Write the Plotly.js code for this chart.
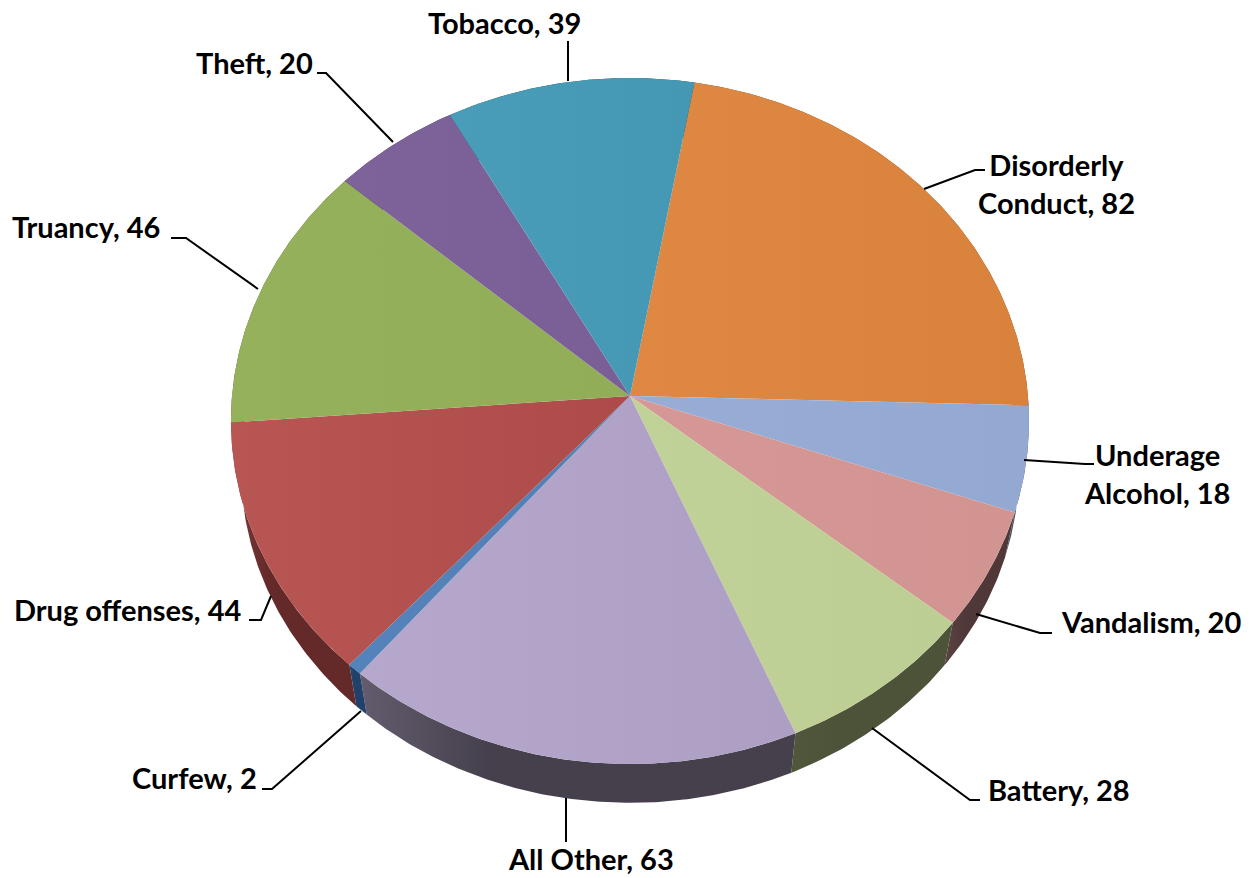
<!DOCTYPE html>
<html>
<head>
<meta charset="utf-8">
<script src="https://cdn.plot.ly/plotly-3.0.1.min.js"></script>
<style>html,body{margin:0;padding:0;background:#fff}#chart{width:1255px;height:878px}</style>
</head>
<body>
<div id="chart"></div>
<script>
const categories = ["Disorderly Conduct","Underage Alcohol","Vandalism","Battery","All Other","Curfew","Drug offenses","Truancy","Theft","Tobacco"];
const values = [82,18,20,28,63,2,44,46,20,39];
const topLeft  = ["#DE8843","#97ADD5","#D69896","#C0D298","#B6A8CC","#5482BA","#B85654","#96B15C","#7E639B","#499DB9"];
const topRight = ["#D9823C","#93A9D1","#D29491","#BCCE94","#AD9EC3","#5380B5","#AC4B49","#92AD58","#7A5E96","#4498B4"];
const sideLeft  = ["#6E4220","#4A5569","#5C4343","#50573B","#645C6E","#264A72","#7C3B39","#4A572D","#3D304C","#234D5B"];
const sideRight = ["#6E4220","#4A5569","#503838","#4C5338","#45404C","#21416A","#642A29","#4A572D","#3D304C","#234D5B"];

const W = 1255, H = 878;
const apexX = 630, apexY = 396, A = 398, B = 341.2, k = 0.0729;
const shrink = 0.975, drop = 48, startAngle = 10;

// Perspective view of a circular pie: a slice angle maps to a point on the rim.
function rimPoint(deg) {
  const t = deg * Math.PI / 180, u = Math.sin(t), v = Math.cos(t), w = 1 + k * v;
  return [apexX + A * u / w, apexY - B * v / w];
}
function lower(p) {
  return [apexX + (p[0] - apexX) * shrink, apexY + (p[1] - apexY) * shrink + drop];
}
function arc(a0, a1) {
  const n = Math.max(2, Math.ceil(a1 - a0) * 2), pts = [];
  for (let i = 0; i <= n; i++) pts.push(rimPoint(a0 + (a1 - a0) * i / n));
  return pts;
}
function polygon(name, pts, scale, solid) {
  return {
    type: "scatter", mode: "lines", name: name, x: pts.map(p => p[0]), y: pts.map(p => p[1]),
    fill: "toself", line: {width: 0}, showlegend: false, hoverinfo: "name",
    fillcolor: solid,
    fillgradient: {type: "horizontal", colorscale: scale}
  };
}

const total = values.reduce((a, b) => a + b, 0);
const sideTraces = [], topTraces = [];
let angle = startAngle;
values.forEach((val, i) => {
  const next = angle + val / total * 360, a = arc(angle, next);
  const side = a.concat(a.slice().reverse().map(lower));
  sideTraces.push(polygon(categories[i], side.concat([side[0]]),
    [[0, sideLeft[i]], [0.3, sideRight[i]], [1, sideRight[i]]], sideRight[i]));
  const face = [[apexX, apexY]].concat(a, [[apexX, apexY]]);
  topTraces.push(polygon(categories[i], face, [[0, topLeft[i]], [1, topRight[i]]], topRight[i]));
  angle = next;
});

const labelFont = {family: "Lato, 'Open Sans', sans-serif", size: 29, color: "#000"};
function label(text, x, y) {
  return {text: "<b>" + text + "</b>", x: x, y: y, xref: "x", yref: "y",
    xanchor: "center", yanchor: "middle", showarrow: false, align: "center", font: labelFont};
}
function leader(d) {
  return {type: "path", xref: "x", yref: "y", line: {color: "#000", width: 2},
    path: d.map((p, i) => (i ? "L" : "M") + p[0] + "," + p[1]).join(" ")};
}

const hidden = {visible: false, fixedrange: true};
const layout = {
  width: W, height: H, margin: {l: 0, r: 0, t: 0, b: 0},
  paper_bgcolor: "#fff", plot_bgcolor: "#fff", showlegend: false,
  xaxis: Object.assign({range: [0, W]}, hidden),
  yaxis: Object.assign({range: [H, 0]}, hidden),
  annotations: [
    label("Disorderly<br>Conduct, 82", 1056, 183),
    label("Underage<br>Alcohol, 18", 1157, 473),
    label("Vandalism, 20", 1151, 621),
    label("Battery, 28", 1059, 789),
    label("All Other, 63", 591, 858),
    label("Curfew, 2", 194, 777),
    label("Drug offenses, 44", 127, 609),
    label("Truancy, 46", 86, 226),
    label("Theft, 20", 254, 62),
    label("Tobacco, 39", 504, 22)
  ],
  shapes: [
    leader([[924,189],[975,170],[985,170]]),
    leader([[1024,460],[1085,464],[1094,464]]),
    leader([[976,614],[1040,633],[1052,633]]),
    leader([[872,728],[970,800],[980,800]]),
    leader([[566,798],[566,842]]),
    leader([[361,711],[272,789],[262,789]]),
    leader([[271,596],[261,620],[249,620]]),
    leader([[258,289],[186,238],[171,238]]),
    leader([[393,142],[326,73],[317,73]]),
    leader([[568,81],[568,41]])
  ]
};

Plotly.newPlot("chart", sideTraces.concat(topTraces), layout, {displayModeBar: false, staticPlot: true});
</script>
</body>
</html>
